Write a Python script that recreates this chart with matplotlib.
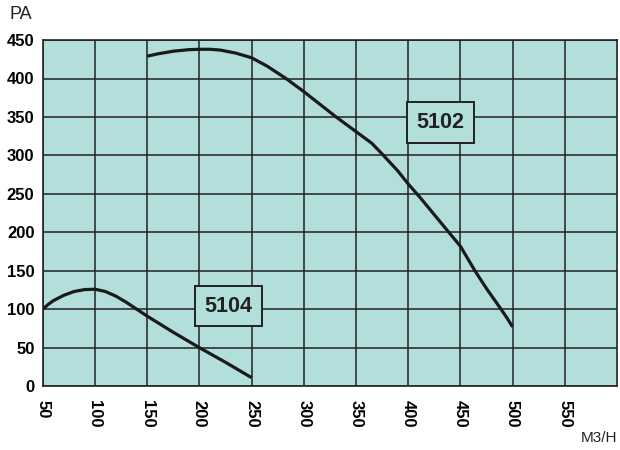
import matplotlib
matplotlib.use("Agg")
import matplotlib.pyplot as plt

plt.rcParams['font.family'] = ['Liberation Sans', 'DejaVu Sans']

# curve 5104
flow_5104 = [50, 55, 60, 70, 80, 90, 100, 110, 120, 130, 140, 150, 175, 200, 225, 250]
pa_5104 = [100, 106, 111, 118, 123, 125.5, 126, 123, 117, 109, 100, 91, 70, 50, 31, 11]

# curve 5102
flow_5102 = [150, 160, 175, 190, 200, 210, 220, 235, 250, 265, 283, 300, 315, 331,
             350, 365, 375, 390, 400, 411, 425, 439, 450, 464, 475, 489, 495, 500]
pa_5102 = [429, 432, 435.5, 437.5, 438, 438, 437, 433, 427, 416, 400, 383, 367, 350,
           331, 316, 302, 280, 263, 246, 223, 200, 182, 150, 127, 100, 88, 77]

x_ticks = [50, 100, 150, 200, 250, 300, 350, 400, 450, 500, 550]
y_ticks = [0, 50, 100, 150, 200, 250, 300, 350, 400, 450]

bg = '#b2dedb'

fig = plt.figure(figsize=(6.2, 4.5), dpi=100)
ax = fig.add_axes([0.069, 0.142, 0.926, 0.769])
ax.set_facecolor(bg)

ax.plot(flow_5104, pa_5104, color='#1a1a1a', lw=2.3, solid_capstyle='butt')
ax.plot(flow_5102, pa_5102, color='#1a1a1a', lw=2.3, solid_capstyle='butt')

ax.set_xlim(50, 600)
ax.set_ylim(0, 450)
ax.set_xticks(x_ticks)
ax.set_yticks(y_ticks)
ax.grid(True, color='#222222', lw=1.1)
ax.set_axisbelow(True)
ax.tick_params(length=0)
ax.tick_params(axis='x', pad=10)
ax.tick_params(axis='y', pad=6)
for lab in ax.get_xticklabels():
    lab.set_rotation(-90)
    lab.set_fontweight('bold')
    lab.set_fontsize(12)
    lab.set_va('top')
for lab in ax.get_yticklabels():
    lab.set_fontweight('bold')
    lab.set_fontsize(12)
for s in ax.spines.values():
    s.set_color('#222222')
    s.set_linewidth(1.2)

box = dict(boxstyle='square,pad=0.45', facecolor=bg, edgecolor='#222222', lw=1.4)
ax.text(228, 104, '5104', fontsize=15.5, fontweight='bold', color='#222222',
        ha='center', va='center', bbox=box)
ax.text(431, 343, '5102', fontsize=15.5, fontweight='bold', color='#222222',
        ha='center', va='center', bbox=box)

fig.text(0.016, 0.967, 'PA', fontsize=13, ha='left', va='center', color='#222222')
fig.text(0.995, 0.027, 'M3/H', fontsize=11, ha='right', va='center', color='#222222')

fig.savefig('out.png', dpi=100)
